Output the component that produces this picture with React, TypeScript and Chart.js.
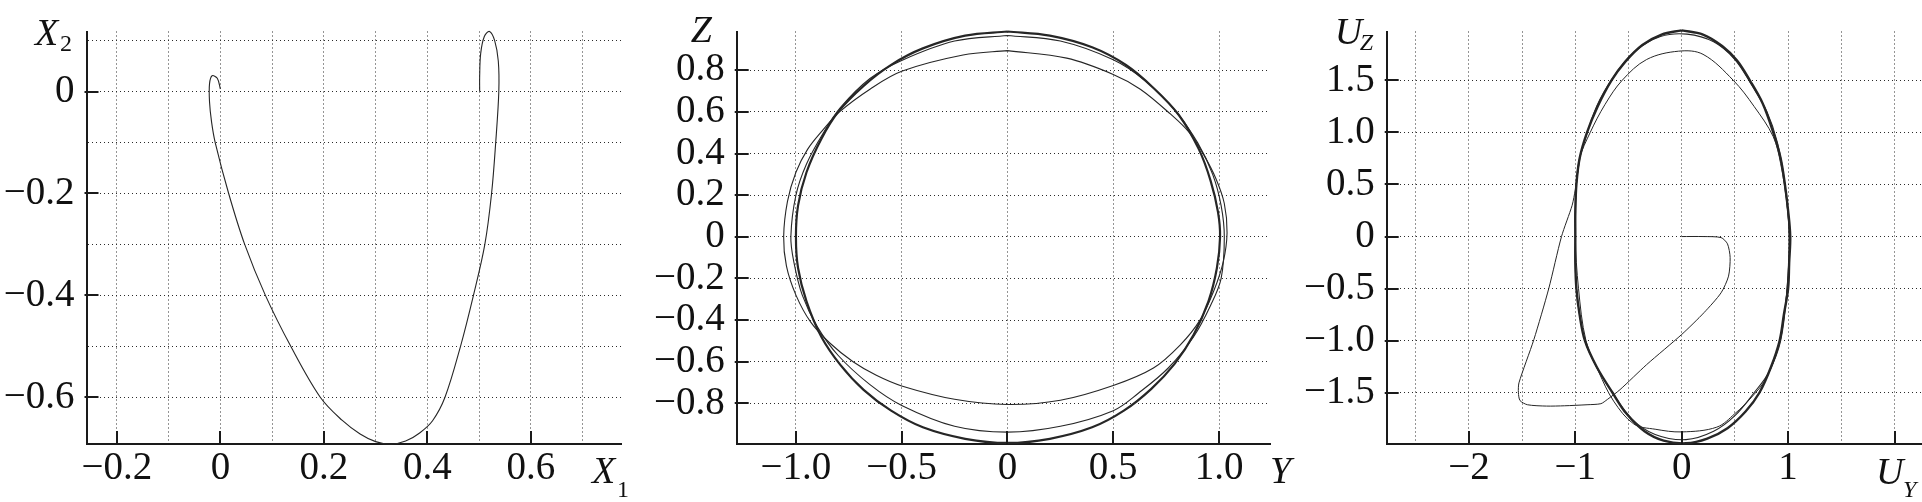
import React, { useEffect, useRef } from 'react';
import { Chart, registerables } from 'chart.js';

Chart.register(...registerables);

const FONT = '"Liberation Serif", "Times New Roman", serif';
const MINUS = '\u2212';

type Pt = [number, number];

// ---------- Panel 1: X1 / X2 trajectory ----------
const x1Traj = [0.000, -0.006, -0.016, -0.021, -0.021, -0.017, -0.010, 0.016, 0.047, 0.087, 0.136, 0.193, 0.235, 0.270, 0.300, 0.330, 0.358, 0.385, 0.410, 0.434, 0.464, 0.489, 0.511, 0.524, 0.532, 0.538, 0.537, 0.530, 0.520, 0.510, 0.503, 0.501, 0.501];
const x2Traj = [0.005, 0.026, 0.031, 0.015, -0.020, -0.060, -0.100, -0.200, -0.300, -0.400, -0.500, -0.600, -0.645, -0.672, -0.687, -0.692, -0.686, -0.670, -0.646, -0.600, -0.500, -0.400, -0.300, -0.200, -0.100, 0.000, 0.060, 0.100, 0.118, 0.108, 0.075, 0.030, 0.000];
const p1XGrid = [-0.2, -0.1, 0, 0.1, 0.2, 0.3, 0.4, 0.5, 0.6, 0.7];
const p1YGrid = [0.1, 0, -0.1, -0.2, -0.3, -0.4, -0.5, -0.6];
const p1XLabels = [-0.2, 0, 0.2, 0.4, 0.6];
const p1YLabels = [0, -0.2, -0.4, -0.6];

// ---------- Panel 2: Y / Z ----------
const zLoop1: Pt[] = [[0.0, 0.894], [-0.21, 0.873], [-0.5, 0.795], [-0.65, 0.709], [-0.794, 0.6], [-0.875, 0.51], [-0.945, 0.42], [-1.0, 0.31], [-1.04, 0.17], [-1.058, 0.0], [-1.045, -0.14], [-1.0, -0.28], [-0.93, -0.41], [-0.84, -0.51], [-0.73, -0.6], [-0.62, -0.665], [-0.5, -0.716], [-0.25, -0.78], [0.0, -0.805], [0.25, -0.785], [0.5, -0.714], [0.69, -0.63], [0.816, -0.52], [0.91, -0.4], [0.975, -0.26], [1.02, -0.12], [1.038, 0.02], [1.025, 0.16], [0.985, 0.28], [0.93, 0.39], [0.86, 0.5], [0.77, 0.59], [0.628, 0.709], [0.5, 0.78], [0.28, 0.858], [0.0, 0.894]];
const zLoop2: Pt[] = [[0, 0.967], [-0.25, 0.94], [-0.5, 0.847], [-0.65, 0.76], [-0.79, 0.62], [-0.87, 0.5], [-0.95, 0.35], [-1.0, 0.2], [-1.024, 0.0], [-1.01, -0.12], [-0.97, -0.28], [-0.9, -0.43], [-0.8, -0.57], [-0.65, -0.71], [-0.5, -0.81], [-0.25, -0.91], [0, -0.938], [0.25, -0.91], [0.5, -0.835], [0.62, -0.75], [0.76, -0.63], [0.88, -0.48], [0.96, -0.33], [1.01, -0.2], [1.025, 0.0], [1.01, 0.15], [0.97, 0.3], [0.9, 0.45], [0.79, 0.61], [0.65, 0.75], [0.5, 0.85], [0.25, 0.94], [0, 0.967]];
const zCycle: Pt[] = [[0, 0.986], [-0.2, 0.966], [-0.4, 0.905], [-0.55, 0.826], [-0.68, 0.725], [-0.8, 0.6], [-0.88, 0.47], [-0.95, 0.31], [-0.99, 0.15], [-1.0, 0], [-0.99, -0.15], [-0.95, -0.31], [-0.88, -0.48], [-0.79, -0.615], [-0.68, -0.735], [-0.55, -0.835], [-0.4, -0.915], [-0.2, -0.97], [0, -0.99], [0.2, -0.97], [0.4, -0.915], [0.55, -0.835], [0.68, -0.73], [0.79, -0.61], [0.88, -0.47], [0.95, -0.31], [0.99, -0.15], [1.005, 0], [0.995, 0.12], [0.96, 0.27], [0.905, 0.42], [0.81, 0.585], [0.69, 0.715], [0.56, 0.825], [0.4, 0.91], [0.2, 0.966], [0, 0.986]];
const p2XGrid = [-1.0, -0.5, 0, 0.5, 1.0];
const p2YGrid = [0.8, 0.6, 0.4, 0.2, 0, -0.2, -0.4, -0.6, -0.8];
const p2XLabels = [-1.0, -0.5, 0, 0.5, 1.0];
const p2YLabels = [0.8, 0.6, 0.4, 0.2, 0, -0.2, -0.4, -0.6, -0.8];

// ---------- Panel 3: U_Y / U_Z ----------
const uStart: Pt[] = [[0, 0], [0.2, 0.0], [0.37, -0.01], [0.43, -0.07], [0.455, -0.2], [0.44, -0.38], [0.37, -0.54], [0.21, -0.73], [0, -0.94], [-0.33, -1.23], [-0.58, -1.47], [-0.7, -1.565], [-0.76, -1.605], [-0.89, -1.615], [-1.1, -1.625], [-1.27, -1.628], [-1.45, -1.615], [-1.52, -1.575], [-1.535, -1.5], [-1.53, -1.405], [-1.39, -0.99], [-1.25, -0.5], [-1.13, 0.0], [-1.03, 0.3], [-1.0, 0.45]];
const uLoop1: Pt[] = [[-1.0, 0.45], [-0.96, 0.75], [-0.86, 1.0], [-0.72, 1.27], [-0.56, 1.5], [-0.33, 1.7], [-0.03, 1.78], [0.2, 1.75], [0.485, 1.5], [0.68, 1.25], [0.86, 0.96], [0.93, 0.7], [0.99, 0.3], [1.01, 0.0], [0.99, -0.5], [0.92, -1.0], [0.8, -1.35], [0.65, -1.55], [0.5, -1.7], [0.33, -1.83], [0.0, -1.876], [-0.25, -1.85], [-0.45, -1.8], [-0.64, -1.58], [-0.78, -1.3], [-0.9, -1.0], [-0.97, -0.5], [-1.0, 0.0], [-0.99, 0.5], [-0.95, 0.8]];
const uLoop2: Pt[] = [[-0.95, 0.8], [-0.8, 1.25], [-0.63, 1.55], [-0.45, 1.77], [-0.2, 1.92], [0.05, 1.944], [0.3, 1.87], [0.5, 1.7], [0.66, 1.45], [0.8, 1.2], [0.9, 0.9], [0.97, 0.5], [1.01, 0.0], [0.99, -0.5], [0.93, -1.0], [0.82, -1.3], [0.68, -1.5], [0.5, -1.72], [0.3, -1.87], [0.04, -1.95], [-0.25, -1.9], [-0.47, -1.75], [-0.65, -1.5], [-0.8, -1.25], [-0.91, -1.0], [-0.99, -0.5], [-1.0, 0.0], [-0.99, 0.5], [-0.96, 0.75]];
const uCycle: Pt[] = [[0, 1.98], [0.2, 1.94], [0.38, 1.83], [0.52, 1.69], [0.64, 1.5], [0.76, 1.28], [0.86, 1.0], [0.93, 0.75], [0.97, 0.5], [1.0, 0.25], [1.02, 0.0], [1.01, -0.25], [1.0, -0.5], [0.96, -0.75], [0.92, -1.0], [0.84, -1.25], [0.73, -1.5], [0.6, -1.68], [0.43, -1.84], [0.24, -1.94], [0.04, -1.985], [-0.17, -1.96], [-0.35, -1.87], [-0.52, -1.7], [-0.65, -1.5], [-0.8, -1.25], [-0.91, -1.0], [-0.96, -0.75], [-0.99, -0.5], [-1.0, -0.25], [-1.0, 0.0], [-1.0, 0.25], [-0.99, 0.5], [-0.96, 0.75], [-0.89, 1.0], [-0.79, 1.25], [-0.66, 1.5], [-0.53, 1.68], [-0.37, 1.84], [-0.19, 1.94], [0, 1.98]];
const p3XGrid = [-2.5, -2, -1.5, -1, -0.5, 0, 0.5, 1, 1.5, 2];
const p3YGrid = [1.5, 1.0, 0.5, 0, -0.5, -1.0, -1.5];
const p3XLabels = [-2, -1, 0, 1];
const p3XMarks = [-2, -1, 0, 1, 2];
const p3YLabels = [1.5, 1.0, 0.5, 0, -0.5, -1.0, -1.5];

// ---------- helpers ----------
function fmt(v: number, dec: number): string {
  if (Math.abs(v) < 1e-9) return '0';
  return (v < 0 ? MINUS : '') + Math.abs(v).toFixed(dec);
}
const has = (arr: number[], v: number) => arr.some((a) => Math.abs(a - v) < 1e-9);

interface SeriesDef { pts: Pt[]; width: number; tension: number }
interface TitleDef { main: string; sub: string; subItalic: boolean; dx: number; dy: number; subDx: number; subDy: number; corner: 'tl' | 'br' }
interface PanelCfg {
  series: SeriesDef[];
  xMin: number; xMax: number; yMin: number; yMax: number;
  xGrid: number[]; yGrid: number[];
  xLabels: number[]; yLabels: number[];
  xMarks: number[]; yMarks: number[];
  xDec: number; yDec: number;
  yWidth: number; padLeft: number; padRight: number;
  titles: TitleDef[];
}

const X_HEIGHT = 58;
const TOP = 23;
const LINE = '#262626';
const GRID = '#2b2b2b';

const panels: PanelCfg[] = [
  {
    series: [{ pts: x1Traj.map((v, i) => [v, x2Traj[i]] as Pt), width: 1.1, tension: 0.35 }],
    xMin: -0.2587, xMax: 0.7741, yMin: -0.6917, yMax: 0.1179,
    xGrid: p1XGrid, yGrid: p1YGrid, xLabels: p1XLabels, yLabels: p1YLabels,
    xMarks: p1XLabels, yMarks: p1YLabels, xDec: 1, yDec: 1,
    yWidth: 86.5, padLeft: 0, padRight: 1922 - 621,
    titles: [
      { main: 'X', sub: '2', subItalic: false, dx: -51.5, dy: 13, subDx: 25, subDy: 6, corner: 'tl' },
      { main: 'X', sub: '1', subItalic: false, dx: -29, dy: 39, subDx: 25, subDy: 14, corner: 'br' },
    ],
  },
  {
    series: [
      { pts: zLoop1, width: 1.1, tension: 0.35 },
      { pts: zLoop2, width: 1.1, tension: 0.35 },
      { pts: zCycle, width: 2.2, tension: 0.35 },
    ],
    xMin: -1.280, xMax: 1.241, yMin: -0.995, yMax: 0.986,
    xGrid: p2XGrid, yGrid: p2YGrid, xLabels: p2XLabels, yLabels: p2YLabels,
    xMarks: p2XLabels, yMarks: p2YLabels, xDec: 1, yDec: 1,
    yWidth: 100, padLeft: 736.7 - 100, padRight: 1922 - 1270,
    titles: [
      { main: 'Z', sub: '', subItalic: false, dx: -46, dy: 10, subDx: 0, subDy: 0, corner: 'tl' },
      { main: 'Y', sub: '', subItalic: false, dx: 0, dy: 39, subDx: 0, subDy: 0, corner: 'br' },
    ],
  },
  {
    series: [
      { pts: uStart, width: 1.0, tension: 0.25 },
      { pts: uLoop1, width: 1.0, tension: 0.35 },
      { pts: uLoop2, width: 1.1, tension: 0.35 },
      { pts: uCycle, width: 2.4, tension: 0.35 },
    ],
    xMin: -2.773, xMax: 2.249, yMin: -1.992, yMax: 1.969,
    xGrid: p3XGrid, yGrid: p3YGrid, xLabels: p3XLabels, yLabels: p3YLabels,
    xMarks: p3XMarks, yMarks: p3YLabels, xDec: 0, yDec: 1,
    yWidth: 100, padLeft: 1386.7 - 100, padRight: 1,
    titles: [
      { main: 'U', sub: 'Z', subItalic: true, dx: -52, dy: 12, subDx: 25, subDy: 6, corner: 'tl' },
      { main: 'U', sub: 'Y', subItalic: true, dx: -45, dy: 40, subDx: 27, subDy: 13, corner: 'br' },
    ],
  },
];

function Panel({ cfg }: { cfg: PanelCfg }) {
  const ref = useRef<HTMLCanvasElement>(null);
  useEffect(() => {
    const decor = {
      id: 'decor',
      afterDraw(chart: any) {
        const { ctx, chartArea } = chart;
        const xs = chart.scales.x;
        const ys = chart.scales.y;
        ctx.save();
        ctx.strokeStyle = '#1a1a1a';
        ctx.lineWidth = 2;
        ctx.beginPath();
        cfg.xMarks.forEach((v) => {
          const px = Math.round(xs.getPixelForValue(v));
          ctx.moveTo(px, chartArea.bottom);
          ctx.lineTo(px, chartArea.bottom - 13);
        });
        cfg.yMarks.forEach((v) => {
          const py = Math.round(ys.getPixelForValue(v));
          ctx.moveTo(chartArea.left - 2, py);
          ctx.lineTo(chartArea.left + 12, py);
        });
        ctx.stroke();
        ctx.fillStyle = '#111';
        ctx.textBaseline = 'alphabetic';
        ctx.textAlign = 'left';
        cfg.titles.forEach((t) => {
          const bx = t.corner === 'tl' ? chartArea.left + t.dx : chartArea.right + t.dx;
          const by = t.corner === 'tl' ? chartArea.top + t.dy : chartArea.bottom + t.dy;
          ctx.font = `italic 38px ${FONT}`;
          ctx.fillText(t.main, bx, by);
          if (t.sub) {
            ctx.font = `${t.subItalic ? 'italic ' : ''}24px ${FONT}`;
            ctx.fillText(t.sub, bx + t.subDx, by + t.subDy);
          }
        });
        ctx.restore();
      },
    };

    const tickFont = { family: FONT, size: 39, lineHeight: 1 };
    const chart = new Chart(ref.current!, {
      type: 'scatter',
      data: {
        datasets: cfg.series.map((s) => ({
          data: s.pts.map(([x, y]) => ({ x, y })),
          showLine: true,
          borderColor: LINE,
          borderWidth: s.width,
          pointRadius: 0,
          pointHoverRadius: 0,
          tension: s.tension,
          fill: false,
          clip: false as any,
        })),
      },
      options: {
        animation: false,
        responsive: false,
        devicePixelRatio: 1,
        events: [],
        layout: { padding: { left: cfg.padLeft, right: cfg.padRight, top: TOP, bottom: 0 } },
        elements: { line: { capBezierPoints: false } },
        plugins: { legend: { display: false }, tooltip: { enabled: false }, title: { display: false } },
        scales: {
          x: {
            type: 'linear',
            min: cfg.xMin,
            max: cfg.xMax,
            afterBuildTicks: (s: any) => { s.ticks = cfg.xGrid.map((v) => ({ value: v })); },
            afterFit: (s: any) => { s.height = X_HEIGHT; },
            grid: { color: GRID, lineWidth: 1, drawTicks: false },
            border: { display: true, color: '#1a1a1a', width: 2, dash: [1, 3] },
            ticks: {
              autoSkip: false, maxRotation: 0, minRotation: 0, padding: 5,
              color: '#111', font: tickFont,
              callback: (v: any) => (has(cfg.xLabels, Number(v)) ? fmt(Number(v), cfg.xDec) : ''),
            },
          },
          y: {
            type: 'linear',
            min: cfg.yMin,
            max: cfg.yMax,
            afterBuildTicks: (s: any) => { s.ticks = cfg.yGrid.map((v) => ({ value: v })); },
            afterFit: (s: any) => { s.width = cfg.yWidth; },
            grid: { color: GRID, lineWidth: 1, drawTicks: false },
            border: { display: true, color: '#1a1a1a', width: 2, dash: [1, 3] },
            ticks: {
              autoSkip: false, padding: 12,
              color: '#111', font: tickFont,
              callback: (v: any) => (has(cfg.yLabels, Number(v)) ? fmt(Number(v), cfg.yDec) : ''),
            },
          },
        },
      } as any,
      plugins: [decor],
    });
    return () => chart.destroy();
  }, [cfg]);
  return (
    <canvas
      ref={ref}
      width={1922}
      height={502}
      style={{ position: 'absolute', left: 0, top: 0, width: 1922, height: 502 }}
    />
  );
}

export default function App() {
  return (
    <div style={{ position: 'absolute', left: 0, top: 0, width: 1922, height: 502, background: '#fff', overflow: 'hidden' }}>
      {panels.map((p, i) => (
        <Panel key={i} cfg={p} />
      ))}
    </div>
  );
}
